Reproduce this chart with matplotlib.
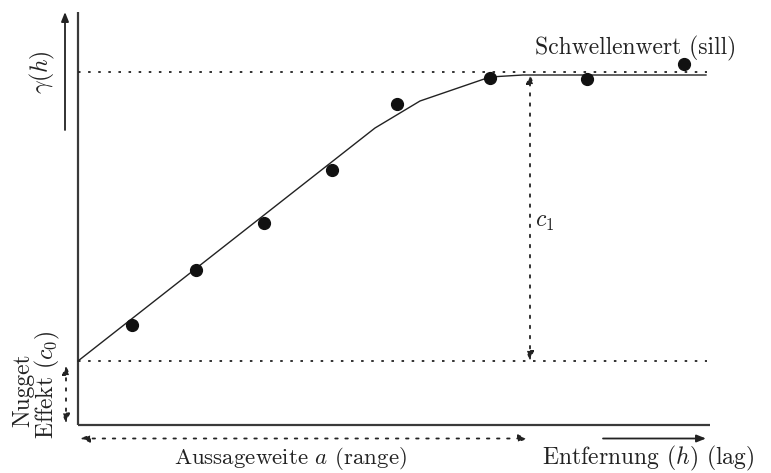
import matplotlib
matplotlib.use("Agg")
import matplotlib.pyplot as plt

plt.rcParams["font.family"] = "cmr10"
plt.rcParams["mathtext.fontset"] = "cm"
plt.rcParams["axes.formatter.use_mathtext"] = True

# empirical semivariogram (lag h, gamma)
lag = [5.4, 11.8, 18.6, 25.4, 31.9, 41.2, 50.9, 60.6]
gamma = [10.0, 15.5, 20.2, 25.5, 32.1, 34.7, 34.6, 36.1]

# fitted model, piecewise
model_h = [0.0, 29.7, 34.2, 41.2, 44.5, 62.8]
model_g = [6.4, 29.7, 32.4, 34.8, 35.0, 35.0]

nugget = 6.4
sill = 35.3
range_a = 45.0
h_max = 62.9
g_max = 41.3

ink = "#222222"
dots = (0, (1.4, 4.2))

fig = plt.figure(figsize=(7.71, 4.73), dpi=100)
ax = fig.add_axes([0, 0, 1, 1])
ax.set_xlim(-7.8, 69.3)
ax.set_ylim(-4.8, 42.5)
ax.axis("off")

# axes lines
ax.plot([0, 0], [0, g_max], color="#3a3a3a", lw=1.6, solid_capstyle="butt")
ax.plot([0, h_max + 0.3], [0, 0], color="#3a3a3a", lw=1.6, solid_capstyle="butt")

# nugget and sill levels
ax.plot([0, h_max], [nugget, nugget], color=ink, lw=1.3, linestyle=dots)
ax.plot([0, h_max], [sill, sill], color=ink, lw=1.3, linestyle=dots)

# model curve and samples
ax.plot(model_h, model_g, color=ink, lw=1.0)
ax.plot(lag, gamma, "o", color="#111111", markersize=8.5)

arrow_dot = dict(arrowstyle="<|-|>,head_length=0.55,head_width=0.22",
                 color=ink, lw=1.3, linestyle=dots, shrinkA=0, shrinkB=0)
arrow_solid = dict(arrowstyle="-|>,head_length=0.55,head_width=0.22",
                   color=ink, lw=1.3, shrinkA=0, shrinkB=0)

# c1: partial sill
ax.annotate("", xy=(range_a + 0.2, sill - 0.2), xytext=(range_a + 0.2, nugget),
            arrowprops=arrow_dot)
ax.text(45.7, 20.3, r"$c_1$", fontsize=17,
        ha="left", va="center", color=ink)

# nugget effect
ax.annotate("", xy=(-1.2, 6.0), xytext=(-1.2, 0.15), arrowprops=arrow_dot)
ax.text(-5.5, 3.5, "Nugget", rotation=90, fontsize=17, ha="center",
        va="center", color=ink)
ax.text(-3.1, 4.0, r"Effekt ($c_0$)", rotation=90, fontsize=17,
        ha="center", va="center", color=ink)

# range
ax.annotate("", xy=(range_a, -1.35), xytext=(0.2, -1.35), arrowprops=arrow_dot)
ax.text(21.2, -3.3, "Aussageweite $a$ (range)", fontsize=16.5,
        ha="center", va="center", color=ink)

# lag axis label
ax.annotate("", xy=(62.8, -1.35), xytext=(52.5, -1.35), arrowprops=arrow_solid)
ax.text(57.0, -3.3, "Entfernung $(h)$ (lag)", fontsize=17,
        ha="center", va="center", color=ink)

# gamma axis label
ax.annotate("", xy=(-1.3, 41.3), xytext=(-1.3, 29.5), arrowprops=arrow_solid)
ax.text(-3.6, 35.3, r"$\gamma(h)$", rotation=90, fontsize=17,
        ha="center", va="center", color=ink)

ax.text(55.8, 37.7, "Schwellenwert (sill)", fontsize=17,
        ha="center", va="center", color=ink)

fig.savefig("out.png", dpi=100)
